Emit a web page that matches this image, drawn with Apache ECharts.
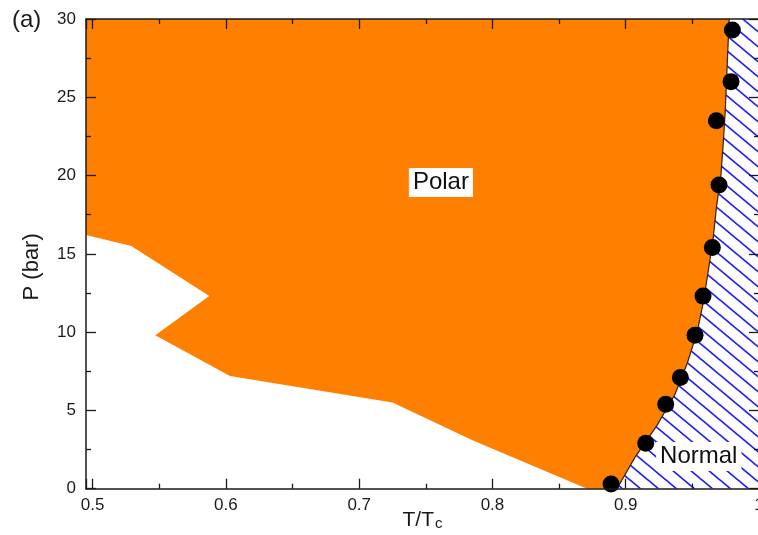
<!DOCTYPE html>
<html>
<head>
<meta charset="utf-8">
<script src="https://cdn.jsdelivr.net/npm/echarts@6/dist/echarts.min.js"></script>
<style>
  html, body { margin: 0; padding: 0; background: #fff; }
  #chart { width: 758px; height: 535px; }
</style>
</head>
<body>
<div id="chart"></div>
<script>
// Axis extents
const tMin = 0.495, tMax = 1.0;
const pMin = 0, pMax = 30;

// Lower edge of the polar region on the low-temperature side (T/Tc, P in bar)
const edgeT = [0.495, 0.529, 0.5875, 0.547, 0.603, 0.725, 0.785, 0.871];
const edgeP = [16.2, 15.5, 12.3, 9.8, 7.2, 5.5, 3.1, 0];

// Fitted polar / normal transition line
const fitT = [0.8934, 0.9069, 0.9231, 0.9368, 0.9461, 0.9536, 0.9584, 0.9621,
              0.9656, 0.9681, 0.9714, 0.9731, 0.9746, 0.9756, 0.9766, 0.9776];
const fitP = [0, 2, 4, 6, 8, 10, 12, 14, 16, 18, 20, 22, 24, 26, 28, 30];

// Measured transition points
const dotT = [0.889, 0.915, 0.930, 0.941, 0.952, 0.958, 0.965, 0.970, 0.968, 0.979, 0.980];
const dotP = [0.3, 2.9, 5.4, 7.1, 9.8, 12.3, 15.4, 19.4, 23.5, 26.0, 29.3];

// Phase names and where they sit
const phaseNames = ['Polar', 'Normal'];
const phaseT = [0.7613, 0.9548];
const phaseP = [19.55, 2.06];

const FONT = '"Liberation Sans", Arial, Helvetica, sans-serif';
const INK = '#1a1a1a';
const ORANGE = '#ff8000';

// Diagonal blue hatching tile for the normal phase
function hatchTile(w, h, color, lw) {
  const c = document.createElement('canvas');
  c.width = w; c.height = h;
  const g = c.getContext('2d');
  g.strokeStyle = color;
  g.lineWidth = lw;
  for (let k = -1; k <= 1; k++) {
    g.beginPath();
    g.moveTo(k * w - w, -h);
    g.lineTo(k * w + 2 * w, 2 * h);
    g.stroke();
  }
  return c;
}
const hatch = { image: hatchTile(18, 15, '#1e1eff', 1.7), repeat: 'repeat' };

// Region outlines built from the arrays above
const polarT = [tMin].concat(edgeT, fitT);
const polarP = [pMax].concat(edgeP, fitP);
const normalT = fitT.concat([tMax, tMax]);
const normalP = fitP.concat([pMax, pMin]);

function regionSeries(T, P, fill, z) {
  return {
    type: 'custom',
    coordinateSystem: 'cartesian2d',
    clip: true,
    silent: true,
    z: z,
    data: T.map((t, i) => [t, P[i]]),
    renderItem: function (params, api) {
      if (params.dataIndex !== 0) return null;
      const pts = T.map((t, i) => api.coord([t, P[i]]));
      return { type: 'polygon', shape: { points: pts }, style: { fill: fill } };
    }
  };
}

const tickStyle = { color: INK, width: 1.3 };
const lineStyle = { color: INK, width: 1.5 };

function xAxisDef(pos, labelled) {
  return {
    type: 'value', position: pos, min: tMin, max: tMax,
    splitNumber: 5, minInterval: 0.1, maxInterval: 0.1,
    z: 10,
    axisLine: { show: true, onZero: false, lineStyle: lineStyle },
    axisTick: { show: true, inside: true, length: 10, lineStyle: tickStyle },
    minorTick: { show: true, splitNumber: 2, length: 5, lineStyle: tickStyle },
    splitLine: { show: false },
    axisLabel: {
      show: labelled, showMinLabel: false, fontFamily: FONT, fontSize: 17,
      color: INK, margin: 8
    }
  };
}
function yAxisDef(pos, labelled) {
  return {
    type: 'value', position: pos, min: pMin, max: pMax, interval: 5,
    z: 10,
    axisLine: { show: true, onZero: false, lineStyle: lineStyle },
    axisTick: { show: true, inside: true, length: 10, lineStyle: tickStyle },
    minorTick: { show: true, splitNumber: 2, length: 5, lineStyle: tickStyle },
    splitLine: { show: false },
    axisLabel: { show: labelled, fontFamily: FONT, fontSize: 17, color: INK, margin: 10 }
  };
}

const xBottom = xAxisDef('bottom', true);
xBottom.name = '{t|T/T}{s|c}';
xBottom.nameLocation = 'middle';
xBottom.nameMoveOverlap = false;
xBottom.nameGap = 21;
xBottom.nameTextStyle = {
  rich: {
    t: { fontFamily: FONT, fontSize: 21, color: INK, verticalAlign: 'top', lineHeight: 22 },
    s: { fontFamily: FONT, fontSize: 15, color: INK, verticalAlign: 'bottom', lineHeight: 16, padding: [18, 0, 0, 1] }
  }
};
const xTop = xAxisDef('top', false);

const yLeft = yAxisDef('left', true);
yLeft.name = 'P (bar)';
yLeft.nameLocation = 'middle';
yLeft.nameMoveOverlap = false;
yLeft.nameRotate = 90;
yLeft.nameGap = 43;
yLeft.nameTextStyle = { fontFamily: FONT, fontSize: 22, color: INK, padding: [0, 26, 0, 0] };
const yRight = yAxisDef('right', false);

const chart = echarts.init(document.getElementById('chart'), null, { renderer: 'canvas' });
chart.setOption({
  animation: false,
  backgroundColor: '#fff',
  grid: { left: 86, top: 19, width: 673, height: 469.7, containLabel: false, outerBoundsMode: 'none' },
  xAxis: [xBottom, xTop],
  yAxis: [yLeft, yRight],
  graphic: [{
    type: 'text', left: 12, top: 8,
    style: { text: '(a)', font: '24px ' + FONT, fill: INK }
  }],
  series: [
    regionSeries(polarT, polarP, ORANGE, 1),
    regionSeries(normalT, normalP, hatch, 1),
    {
      type: 'line', z: 3, silent: true, symbol: 'none', smooth: false,
      data: fitT.map((t, i) => [t, fitP[i]]),
      lineStyle: { color: '#3a1e00', width: 1.2 }
    },
    {
      type: 'scatter', z: 4, silent: true, symbol: 'circle', symbolSize: 17,
      data: dotT.map((t, i) => [t, dotP[i]]),
      itemStyle: { color: '#000', opacity: 1 }
    },
    {
      type: 'scatter', z: 5, silent: true, symbolSize: 0,
      data: phaseNames.map((n, i) => ({ name: n, value: [phaseT[i], phaseP[i]] })),
      itemStyle: { opacity: 1 },
      label: {
        show: true, position: 'inside', formatter: '{b}',
        fontFamily: FONT, fontSize: 24, color: '#111', opacity: 1,
        backgroundColor: '#fff', padding: [3, 4, 2, 4]
      }
    }
  ]
});
</script>
</body>
</html>
